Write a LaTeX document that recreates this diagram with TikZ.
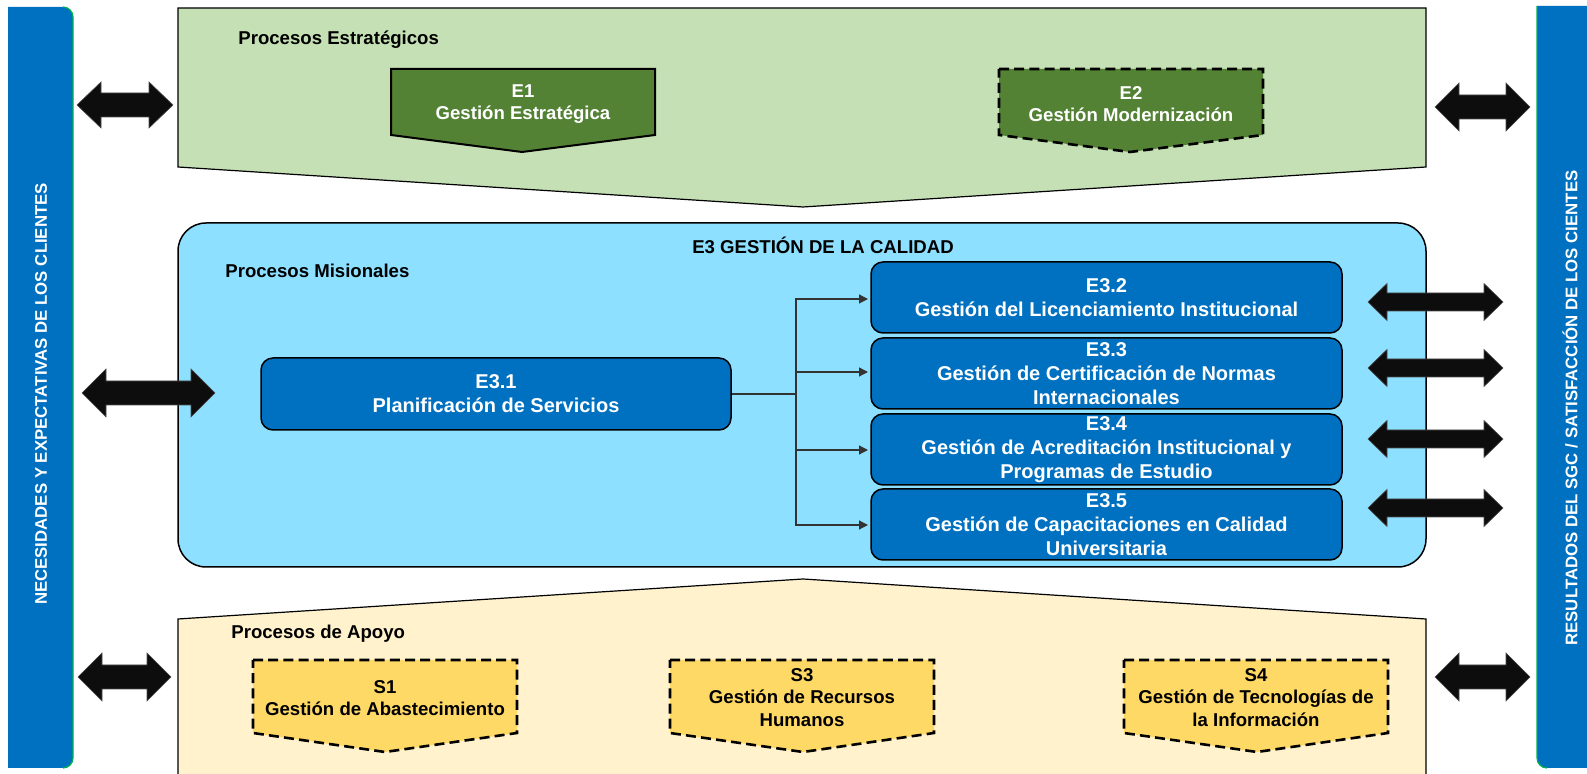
\documentclass[tikz,border=0pt]{standalone}
\usepackage{fontspec}
\setmainfont{Liberation Sans}
\usetikzlibrary{arrows.meta}
\definecolor{barblue}{HTML}{0070C0}
\definecolor{edgegreen}{HTML}{00B050}
\definecolor{topgreen}{HTML}{C5E0B4}
\definecolor{egreen}{HTML}{548235}
\definecolor{midblue}{HTML}{8DE0FF}
\definecolor{botyellow}{HTML}{FFF2CC}
\definecolor{syellow}{HTML}{FFD966}
\definecolor{arrblack}{HTML}{0D0D0D}
\newcommand{\blkarrow}[6]{% x1, x2, yc, shaft half, head half, head length
  \fill[arrblack,draw=black!70,line width=0.3pt]
    (#1,#3) -- ({#1+#6},{#3-#5}) -- ({#1+#6},{#3-#4}) -- ({#2-#6},{#3-#4}) -- ({#2-#6},{#3-#5})
    -- (#2,#3) -- ({#2-#6},{#3+#5}) -- ({#2-#6},{#3+#4}) -- ({#1+#6},{#3+#4}) -- ({#1+#6},{#3+#5}) -- cycle;}
\tikzset{
  fs/.style={font=\bfseries\fontsize{9.3}{11.3}\selectfont},
  sectitle/.style={fs, anchor=west, inner sep=0pt},
  bluebox/.style={draw=black, fill=barblue, line width=0.75pt, rounded corners=6pt,
     text=white, align=center, minimum width=235.5pt, minimum height=35.5pt, inner sep=0pt,
     font=\bfseries\fontsize{10}{12}\selectfont},
  boxtext/.style={fs, align=center, inner sep=0pt},
  pentsolid/.style={draw=black, line width=1pt, fill=egreen},
  pentdash/.style={draw=black, line width=1.3pt, dash pattern=on 5pt off 2.6pt},
  conn/.style={draw=black!80, line width=0.6pt},
}
\begin{document}
\begin{tikzpicture}[x=0.5pt,y=-0.5pt]
\useasboundingbox (0,0) rectangle (1587,774);
% side bars
\fill[barblue] (8,7) -- (63,7) arc[start angle=90,end angle=0,radius=5pt] -- (73,758)
   arc[start angle=0,end angle=-90,radius=5pt] -- (8,768) -- cycle;
\draw[edgegreen,line width=0.6pt] (63,7) arc[start angle=90,end angle=0,radius=5pt] -- (73,758)
   arc[start angle=0,end angle=-90,radius=5pt];
\fill[barblue] (1600,6) -- (1537,6) -- (1537,758) arc[start angle=180,end angle=270,radius=5pt] -- (1600,768) -- cycle;
\draw[edgegreen,line width=0.6pt] (1537,6) -- (1537,758) arc[start angle=180,end angle=270,radius=5pt];
\node[rotate=90, text=white, font=\bfseries\fontsize{8.4}{10}\selectfont] (lbar) at (41,394)
  {NECESIDADES Y EXPECTATIVAS DE LOS CLIENTES};
\node[rotate=90, text=white, font=\bfseries\fontsize{8.4}{10}\selectfont] (rbar) at (1570,408)
  {RESULTADOS DEL SGC / SATISFACCIÓN DE LOS CIENTES};

% top panel
\draw[fill=topgreen, line width=0.6pt] (178,8) -- (1426,8) -- (1426,167) -- (803,207) -- (178,167) -- cycle;
\node[sectitle] (pest) at (238,40) {Procesos Estratégicos};
\draw[pentsolid] (391,69) -- (655,69) -- (655,135) -- (522,152) -- (391,135) -- cycle;
\node[boxtext, text=white] (e1) at (523,104) {E1\\Gestión Estratégica};
\draw[pentdash, fill=egreen] (999,69) -- (1263,69) -- (1263,135) -- (1130,152) -- (999,135) -- cycle;
\node[boxtext, text=white] (e2) at (1131,104) {E2\\Gestión Modernización};

% middle panel
\draw[fill=midblue, rounded corners=14pt, line width=0.75pt] (178,223) rectangle (1426,567);
\node[fs] (e3t) at (823,245) {E3 GESTIÓN DE LA CALIDAD};
\node[sectitle] (pmis) at (225,271) {Procesos Misionales};
\node[bluebox, minimum width=235pt, minimum height=36pt] (e31) at (496,394) {E3.1\\Planificación de Servicios};
\node[bluebox] (e32) at (1106.5,297.5) {E3.2\\Gestión del Licenciamiento Institucional};
\node[bluebox] (e33) at (1106.5,373.5) {E3.3\\Gestión de Certificación de Normas\\Internacionales};
\node[bluebox] (e34) at (1106.5,449.5) {E3.4\\Gestión de Acreditación Institucional y\\Programas de Estudio};
\node[bluebox] (e35) at (1106.5,524.5) {E3.5\\Gestión de Capacitaciones en Calidad\\Universitaria};
\coordinate (jx) at (796,394);
\draw[conn] (e31.east) -- (jx);
\foreach \b/\yy in {e32/299,e33/372,e34/450,e35/525}{
  \draw[conn, -{Triangle[length=4.5pt,width=4.5pt]}] (jx) |- (868,\yy);
}

% bottom panel
\fill[botyellow] (178,774) -- (178,619) -- (803,579) -- (1426,619) -- (1426,774) -- cycle;
\draw[line width=0.6pt] (178,774) -- (178,619) -- (803,579) -- (1426,619) -- (1426,774);
\node[sectitle] (papo) at (231,634) {Procesos de Apoyo};
\draw[pentdash, fill=syellow] (253,660) -- (517,660) -- (517,733) -- (385,752) -- (253,733) -- cycle;
\node[boxtext] (s1) at (385,698) {S1\\Gestión de Abastecimiento};
\draw[pentdash, fill=syellow] (670,660) -- (934,660) -- (934,733) -- (803,752) -- (670,733) -- cycle;
\node[boxtext] (s3) at (802,697.5) {S3\\Gestión de Recursos\\Humanos};
\draw[pentdash, fill=syellow] (1124,660) -- (1388,660) -- (1388,733) -- (1257,752) -- (1124,733) -- cycle;
\node[boxtext] (s4) at (1256,697.5) {S4\\Gestión de Tecnologías de\\la Información};

% block double arrows
\blkarrow{77}{173}{105}{12}{23}{24}
\blkarrow{1435}{1530}{107}{12}{24}{24}
\blkarrow{82}{215}{393}{12}{24}{24}
\blkarrow{78}{171}{677}{12}{24}{24}
\blkarrow{1435}{1530}{677}{12}{24}{24}
\blkarrow{1368}{1503}{302}{9}{18.5}{19}
\blkarrow{1368}{1503}{368}{9}{18.5}{19}
\blkarrow{1368}{1503}{439}{9}{18.5}{19}
\blkarrow{1368}{1503}{508}{9}{18.5}{19}
\end{tikzpicture}
\end{document}
